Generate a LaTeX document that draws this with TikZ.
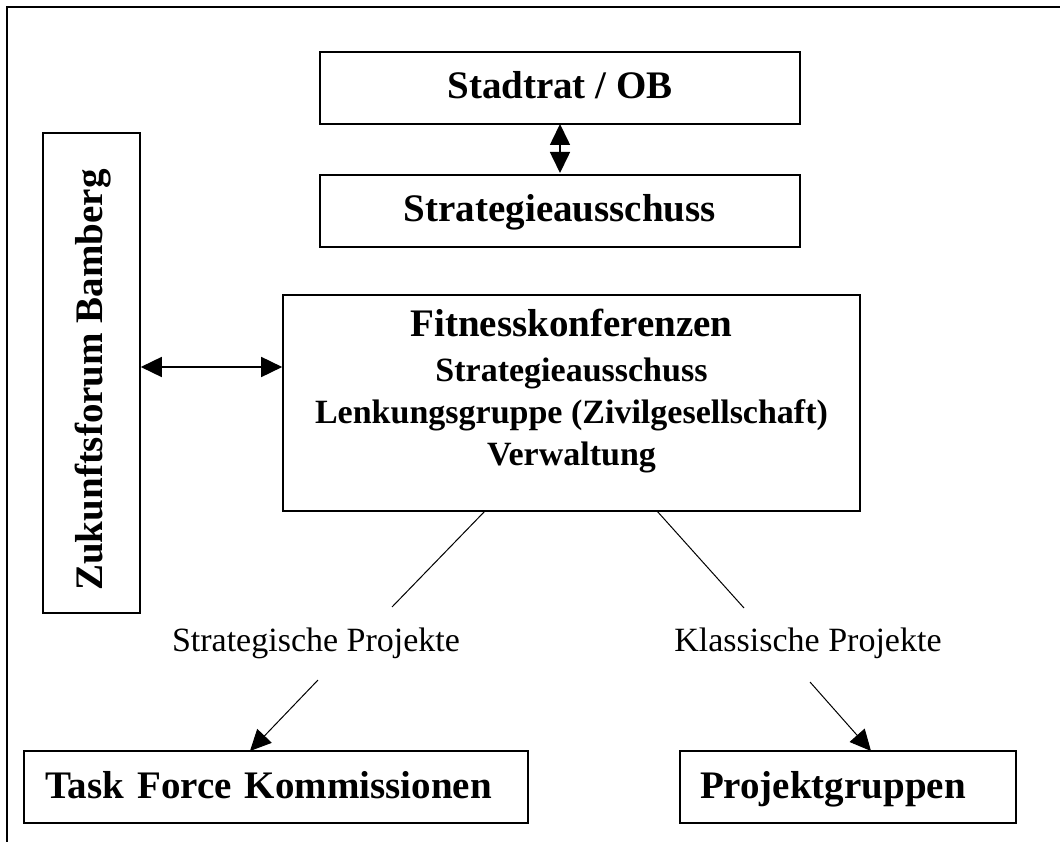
\documentclass[tikz,border=0pt]{standalone}
\usepackage{fontspec}
\setmainfont{Liberation Serif}
\usetikzlibrary{arrows.meta}
\begin{document}
\begin{tikzpicture}[x=1pt,y=-1pt,
  box/.style={draw, line width=1.6pt, inner sep=0pt, text height=29pt, text depth=7pt, font=\fontsize{39}{44}\selectfont\bfseries},
  big/.style={font=\fontsize{39}{44}\selectfont\bfseries, inner sep=0pt},
  small/.style={font=\fontsize{34}{40}\selectfont\bfseries, inner sep=0pt},
  lab/.style={font=\fontsize{34}{40}\selectfont, inner sep=0pt},
  thin/.style={line width=1pt},
  tip/.style={line width=1pt, -{Triangle[length=21pt,width=20pt]}},
  dtip/.style={line width=1.6pt, {Triangle[length=21pt,width=20pt]}-{Triangle[length=21pt,width=20pt]}}]
\useasboundingbox (0,0) rectangle (1060,842);
\fill[white] (0,0) rectangle (1060,842);
% outer frame (left and top only)
\draw[line width=1.8pt] (7,842) -- (7,7) -- (1060,7);
% boxes
\node[box, minimum width=480pt, minimum height=72pt] (stadt) at (560,88) {Stadtrat / OB};
\node[box, minimum width=480pt, minimum height=72pt] (strat) at (560,211) {Strategieausschuss};
\node[box, minimum width=97pt, minimum height=480pt, text height=, text depth=] (zuk) at (91.5,373) {};
\node[big, rotate=90] (zuktext) at (93,380) {Zukunftsforum Bamberg};
\node[box, minimum width=577pt, minimum height=216pt, text height=, text depth=] (fit) at (571.5,403) {};
\node[big] (f1) at (571.5,323) {Fitnesskonferenzen};
\node[small] (f2) at (571.5,373) {Strategieausschuss};
\node[small] (f3) at (571.5,415) {Lenkungsgruppe (Zivilgesellschaft)};
\node[small] (f4) at (571.5,457) {Verwaltung};
\node[box, minimum width=504pt, minimum height=72pt, text width=461pt, align=left] (task) at (276,787) {Task Force Kommissionen};
\node[box, minimum width=336pt, minimum height=72pt, text width=296pt, align=left] (proj) at (848,787) {Projektgruppen};
% labels
\node[lab] (l1) at (316,643) {Strategische Projekte};
\node[lab] (l2) at (808,643) {Klassische Projekte};
% connector coordinates
\coordinate (a1) at (485,511);
\coordinate (a2) at (392,607);
\coordinate (b1) at (657,511);
\coordinate (b2) at (744,608);
\coordinate (c1) at (318,680);
\coordinate (c2) at (250,751);
\coordinate (d1) at (810,682);
\coordinate (d2) at (871,751);
\coordinate (s1) at (560,124);
\coordinate (s2) at (560,173);
% connectors
\draw[dtip] (s1) -- (s2);
\draw[dtip] (zuk.east |- 0,367) -- (fit.west |- 0,367);
\draw[thin] (a1) -- (a2);
\draw[thin] (b1) -- (b2);
\draw[tip] (c1) -- (c2);
\draw[tip] (d1) -- (d2);
\end{tikzpicture}
\end{document}
